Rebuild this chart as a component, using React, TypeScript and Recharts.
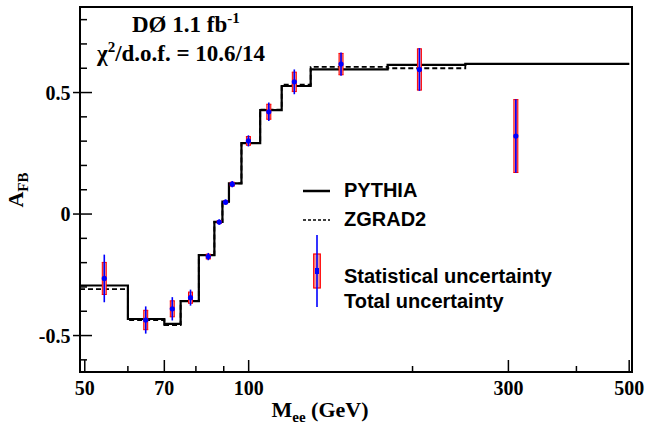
import React from "react";
import {
  ComposedChart,
  Line,
  Scatter,
  XAxis,
  YAxis,
  ErrorBar,
  ReferenceArea,
  Legend,
} from "recharts";

const X_MIN = 49;
const X_MAX = 506;
const Y_MIN = -0.65;
const Y_MAX = 0.852;

const xTicks = [50, 60, 70, 80, 90, 100, 200, 300, 400, 500];
const xLabels = [50, 70, 100, 300, 500];
const yTicks = [-0.6, -0.5, -0.4, -0.3, -0.2, -0.1, 0, 0.1, 0.2, 0.3, 0.4, 0.5, 0.6, 0.7, 0.8];
const yLabels = [-0.5, 0, 0.5];

// prediction histograms (bin edges in GeV, one value per bin)
const binEdges = [49, 60, 70, 75, 81, 86.5, 89.5, 92, 97, 105, 115, 130, 180, 250, 500];
const pythia = [-0.294, -0.432, -0.452, -0.358, -0.169, -0.032, 0.051, 0.126, 0.292, 0.428, 0.527, 0.595, 0.614, 0.618];
const zgrad2 = [-0.309, -0.436, -0.457, -0.358, -0.169, -0.032, 0.051, 0.126, 0.292, 0.43, 0.532, 0.606, 0.6, 0.618];

// measured A_FB
const massPoints = [54.3, 64.7, 72.4, 78.2, 84.3, 88.3, 90.7, 93.3, 99.9, 108.9, 121.3, 147.8, 205.9, 309.6];
const afb = [-0.265, -0.436, -0.39, -0.344, -0.175, -0.033, 0.049, 0.123, 0.301, 0.421, 0.544, 0.617, 0.595, 0.321];
const statErr = [0.066, 0.04, 0.033, 0.023, 0.01, 0.006, 0.006, 0.008, 0.018, 0.031, 0.04, 0.044, 0.085, 0.15];
const totErr = [0.098, 0.056, 0.048, 0.033, 0.015, 0.011, 0.011, 0.013, 0.023, 0.038, 0.051, 0.048, 0.088, 0.151];

const stepRows = (vals: number[]) =>
  binEdges.map((m, i) => ({ m, y: vals[Math.min(i, vals.length - 1)] }));

const pythiaRows = stepRows(pythia);
const zgradRows = stepRows(zgrad2);
const pointRows = massPoints.map((m, i) => ({
  m,
  y: afb[i],
  stat: statErr[i],
  tot: totErr[i],
}));

const SERIF = "'Liberation Serif', 'Times New Roman', serif";
const SANS = "'Liberation Sans', Arial, Helvetica, sans-serif";

const XTick = (props: any) => {
  const { x, y, payload } = props;
  const major = xLabels.includes(payload.value);
  return (
    <g>
      <line x1={x} x2={x} y1={y} y2={y - (major ? 12 : 6)} stroke="#000" strokeWidth={1.5} />
      {major && (
        <text x={x} y={y + 23} textAnchor="middle" fontFamily={SERIF} fontWeight="bold" fontSize={20} fill="#000">
          {payload.value}
        </text>
      )}
    </g>
  );
};

const YTick = (props: any) => {
  const { x, y, payload } = props;
  const major = yLabels.includes(payload.value);
  return (
    <g>
      <line x1={major ? x - 7 : x} x2={x + (major ? 12 : 7)} y1={y} y2={y} stroke="#000" strokeWidth={1.5} />
      {major && (
        <text x={x - 9.5} y={y} dy="0.35em" textAnchor="end" fontFamily={SERIF} fontWeight="bold" fontSize={20} fill="#000">
          {payload.value === 0 ? "0" : String(payload.value)}
        </text>
      )}
    </g>
  );
};

const Overlay = () => (
  <svg width={645} height={433} style={{ display: "block" }}>
    <text x={132} y={32} fontFamily={SERIF} fontWeight="bold" fontSize={23} fill="#000">
      DØ 1.1 fb
      <tspan fontSize={15} dy={-9}>-1</tspan>
    </text>
    <text x={97} y={61} fontFamily={SERIF} fontWeight="bold" fontSize={23} fill="#000">
      χ<tspan fontSize={15} dy={-9}>2</tspan>
      <tspan dy={9}>/d.o.f. = 10.6/14</tspan>
    </text>
    <text transform="translate(23,190) rotate(-90)" textAnchor="middle" fontFamily={SERIF} fontWeight="bold" fontSize={22} fill="#000">
      A<tspan fontSize={15} dy={5}>FB</tspan>
    </text>
    <text x={320} y={417} textAnchor="middle" fontFamily={SERIF} fontWeight="bold" fontSize={22} fill="#000">
      M<tspan fontSize={15} dy={5}>ee</tspan>
      <tspan dy={-5}> (GeV)</tspan>
    </text>

    <line x1={303} x2={330} y1={191} y2={191} stroke="#000" strokeWidth={2.5} />
    <text x={344} y={197} fontFamily={SANS} fontWeight="bold" fontSize={20} fill="#000">PYTHIA</text>
    <line x1={303} x2={330} y1={220} y2={220} stroke="#000" strokeWidth={1.5} strokeDasharray="3 2" />
    <text x={344} y={226} fontFamily={SANS} fontWeight="bold" fontSize={20} fill="#000">ZGRAD2</text>

    <rect x={313.7} y={254} width={6.6} height={34} fill="#f49a9a" stroke="#ff0000" strokeWidth={1.2} />
    <line x1={317} x2={317} y1={235} y2={307} stroke="#0000ff" strokeWidth={1.6} />
    <rect x={315} y={268} width={4} height={6} fill="#0000ff" />
    <text x={344} y={283} fontFamily={SANS} fontWeight="bold" fontSize={20} fill="#000">Statistical uncertainty</text>
    <text x={344} y={308} fontFamily={SANS} fontWeight="bold" fontSize={20} fill="#000">Total uncertainty</text>
  </svg>
);

const Dot = (p: any) => <circle cx={p.cx} cy={p.cy} r={2.6} fill="#0000ff" />;

export default function App() {
  return (
    <div style={{ position: "absolute", left: 0, top: 0, background: "#fff" }}>
      <ComposedChart width={645} height={433} margin={{ top: 7, right: 13, left: 0, bottom: 0 }}>
        <XAxis
          dataKey="m"
          type="number"
          scale="log"
          domain={[X_MIN, X_MAX]}
          allowDataOverflow
          ticks={xTicks}
          interval={0}
          tickSize={0}
          tickMargin={0}
          axisLine={false}
          tickLine={false}
          tick={<XTick />}
          height={61}
        />
        <YAxis
          dataKey="y"
          type="number"
          domain={[Y_MIN, Y_MAX]}
          allowDataOverflow
          ticks={yTicks}
          interval={0}
          tickSize={0}
          tickMargin={0}
          axisLine={false}
          tickLine={false}
          tick={<YTick />}
          width={80}
        />
        <Line
          data={pythiaRows}
          dataKey="y"
          type="stepAfter"
          stroke="#000"
          strokeWidth={2.2}
          dot={false}
          activeDot={false}
          isAnimationActive={false}
        />
        <Line
          data={zgradRows}
          dataKey="y"
          type="stepAfter"
          stroke="#000"
          strokeWidth={1.8}
          strokeDasharray="5 3"
          dot={false}
          activeDot={false}
          isAnimationActive={false}
        />
        <Scatter data={pointRows} dataKey="y" fill="#0000ff" shape={<Dot />} isAnimationActive={false}>
          <ErrorBar dataKey="stat" direction="y" width={0} stroke="#ff0000" strokeWidth={5} isAnimationActive={false} />
          <ErrorBar dataKey="stat" direction="y" width={0} stroke="#f49a9a" strokeWidth={3} isAnimationActive={false} />
          <ErrorBar dataKey="stat" direction="y" width={2.5} stroke="#ff0000" strokeWidth={1} isAnimationActive={false} />
          <ErrorBar dataKey="tot" direction="y" width={0} stroke="#0000ff" strokeWidth={1.6} isAnimationActive={false} />
        </Scatter>
        <ReferenceArea
          x1={X_MIN}
          x2={X_MAX}
          y1={Y_MIN}
          y2={Y_MAX}
          fill="none"
          fillOpacity={0}
          stroke="#000"
          strokeWidth={2}
          ifOverflow="visible"
        />
        <Legend
          layout="vertical"
          align="center"
          verticalAlign="middle"
          content={() => <Overlay />}
          wrapperStyle={{ left: 0, top: 0, width: 645, height: 433, pointerEvents: "none" }}
        />
      </ComposedChart>
    </div>
  );
}
